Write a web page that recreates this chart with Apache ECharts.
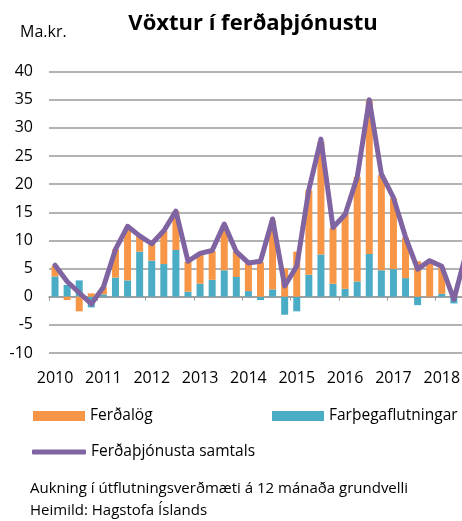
<!DOCTYPE html>
<html>
<head>
<meta charset="utf-8">
<script src="https://cdn.jsdelivr.net/npm/echarts@6/dist/echarts.min.js"></script>
<style>
  html, body { margin: 0; padding: 0; background: #fff; overflow: hidden; }
  /* grafið nær út fyrir gluggann hægra megin, eins og í upprunalegu myndinni */
  #chart { width: 472px; height: 521px; }
</style>
</head>
<body>
<div id="chart"></div>
<script>
// ársfjórðungar 2010K1 - 2018K3
const years = ['2010', '2011', '2012', '2013', '2014', '2015', '2016', '2017', '2018'];
const quarters = ['K1', 'K2', 'K3', 'K4'];
const lastQuarterCount = 3;

const ferdalog = [1.9, -0.6, -2.6, 0.6, 1.3, 5.0, 9.5, 2.8,
  3.1, 5.9, 6.9, 5.3, 5.3, 5.1, 8.0, 4.5,
  4.9, 6.1, 12.2, 5.0, 8.0, 15.0, 20.0, 9.9,
  13.3, 18.6, 27.2, 16.9, 12.6, 7.2, 6.3, 5.8,
  4.7, 0.6, 6.8];
const farthegar = [3.6, 2.1, 2.9, -1.9, 0.4, 3.4, 2.9, 8.0,
  6.4, 5.8, 8.3, 0.9, 2.3, 3.0, 4.7, 3.5,
  1.0, -0.6, 1.3, -3.2, -2.6, 3.9, 7.5, 2.3,
  1.4, 2.7, 7.6, 4.7, 4.9, 3.3, -1.5, 0.0,
  0.5, -1.2, 0.6];
const samtals = [5.6, 2.7, 0.7, -1.3, 1.7, 8.4, 12.5, 10.8,
  9.4, 11.7, 15.2, 6.3, 7.7, 8.2, 12.9, 8.0,
  6.0, 6.3, 13.8, 1.9, 5.4, 19.0, 28.0, 12.3,
  14.6, 21.2, 35.0, 21.8, 17.6, 10.6, 4.9, 6.4,
  5.4, -0.5, 7.6];

const categories = [];
years.forEach((y, i) => {
  const n = i === years.length - 1 ? lastQuarterCount : quarters.length;
  for (let q = 0; q < n; q++) categories.push(y + quarters[q]);
});

const FONT = '"Open Sans", sans-serif';
const gridColor = '#9a9a9a';
const legendText = { fontFamily: FONT, fontSize: 15.5, color: '#000' };

const chart = echarts.init(document.getElementById('chart'), null, { renderer: 'canvas' });

const option = {
  backgroundColor: '#ffffff',
  animation: false,
  textStyle: { fontFamily: FONT },
  title: {
    text: 'Vöxtur í ferðaþjónustu',
    left: 248,
    textAlign: 'center',
    top: 8,
    textStyle: { fontFamily: FONT, fontWeight: 'bold', fontSize: 22, color: '#000' }
  },
  graphic: [
    { type: 'text', left: 20, top: 24, style: { text: 'Ma.kr.', font: '16px ' + FONT, fill: '#000' } },
    { type: 'text', left: 30, top: 481, style: { text: 'Aukning í útflutningsverðmæti á 12 mánaða grundvelli', font: '15px ' + FONT, fill: '#000' } },
    { type: 'text', left: 30, top: 503, style: { text: 'Heimild: Hagstofa Íslands', font: '15px ' + FONT, fill: '#000' } }
  ],
  legend: [
    {
      data: [{ name: 'Ferðalög', icon: 'rect' }],
      left: 28, top: 403, itemWidth: 52, itemHeight: 10,
      textStyle: legendText
    },
    {
      data: [{ name: 'Farþegaflutningar', icon: 'rect' }],
      left: 267, top: 403, itemWidth: 52, itemHeight: 10,
      textStyle: legendText
    },
    {
      data: [{ name: 'Ferðaþjónusta samtals', icon: 'roundRect' }],
      left: 27, top: 439, itemWidth: 54, itemHeight: 5,
      textStyle: legendText
    }
  ],
  grid: { left: 49, top: 71.5, right: 0, height: 281.5, containLabel: false },
  xAxis: [
    {
      type: 'category',
      data: categories,
      axisLine: { onZero: true, lineStyle: { color: gridColor, width: 1.5 } },
      axisTick: { show: true, interval: 3, length: 4, lineStyle: { color: gridColor } },
      axisLabel: { show: false }
    },
    {
      type: 'category',
      data: categories,
      position: 'bottom',
      axisLine: { show: false, onZero: false },
      axisTick: { show: false },
      axisLabel: {
        interval: 3,
        margin: 17,
        fontFamily: FONT,
        fontSize: 16,
        color: '#000',
        formatter: v => v.slice(0, 4)
      }
    }
  ],
  yAxis: {
    type: 'value',
    min: -10,
    max: 40,
    interval: 5,
    axisLine: { show: false },
    axisTick: { show: false },
    axisLabel: { margin: 16, fontFamily: FONT, fontSize: 16, color: '#000' },
    splitLine: { lineStyle: { color: gridColor, width: 1.5 } }
  },
  series: [
    {
      name: 'Farþegaflutningar',
      type: 'bar',
      stack: 'ferd',
      barWidth: 7,
      itemStyle: { color: '#4BACC6' },
      data: farthegar
    },
    {
      name: 'Ferðalög',
      type: 'bar',
      stack: 'ferd',
      barWidth: 7,
      itemStyle: { color: '#F79646' },
      data: ferdalog
    },
    {
      name: 'Ferðaþjónusta samtals',
      type: 'line',
      symbol: 'none',
      z: 5,
      itemStyle: { color: '#8064A2' },
      lineStyle: { color: '#8064A2', width: 5, join: 'round', cap: 'round' },
      data: samtals
    }
  ]
};

chart.setOption(option);
</script>
</body>
</html>
